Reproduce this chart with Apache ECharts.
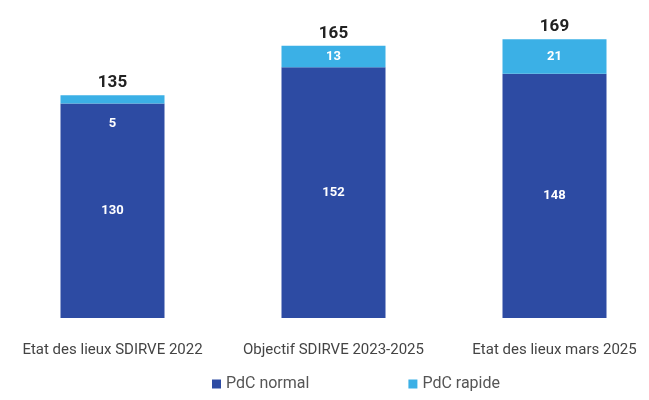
<!DOCTYPE html>
<html><head><meta charset="utf-8">
<script src="https://cdn.jsdelivr.net/npm/echarts@6/dist/echarts.min.js"></script>
<style>html,body{margin:0;padding:0;background:#fff}#c{width:649px;height:400px}</style>
</head><body><div id="c"></div>
<script>
const categories = ['Etat des lieux SDIRVE 2022', 'Objectif SDIRVE 2023-2025', 'Etat des lieux mars 2025'];
const normalValues = [130, 152, 148];
const rapideValues = [5, 13, 21];
const totals = normalValues.map((v, i) => v + rapideValues[i]);

const chart = echarts.init(document.getElementById('c'));
chart.setOption({
  animation: false,
  backgroundColor: '#fff',
  grid: { left: 2, width: 663, top: 21, bottom: 82, outerBoundsMode: 'none', containLabel: false },
  legend: {
    bottom: 3, left: 207, itemWidth: 9, itemHeight: 9, itemGap: 99,
    icon: 'rect',
    textStyle: { color: '#555', fontSize: 16, fontFamily: 'Roboto, sans-serif' },
    data: ['PdC normal', 'PdC rapide']
  },
  xAxis: {
    type: 'category', data: categories,
    axisLine: { show: false }, axisTick: { show: false },
    axisLabel: { interval: 0, hideOverlap: false, color: '#444', fontSize: 15, margin: 25, fontFamily: 'Roboto, sans-serif' }
  },
  yAxis: { type: 'value', min: 0, max: 180, show: false, splitLine: { show: false } },
  series: [
    {
      name: 'PdC normal', type: 'bar', stack: 't', data: normalValues, barWidth: 104,
      itemStyle: { color: '#2d4ba3' },
      label: { show: true, position: 'inside', color: '#fff', fontSize: 13, fontWeight: 'bold', fontFamily: 'Roboto, sans-serif' }
    },
    {
      name: 'PdC rapide', type: 'bar', stack: 't', barWidth: 104,
      data: rapideValues.map((v, i) => i === 0 ? { value: v, label: { offset: [0, 24] } } : v),
      itemStyle: { color: '#3bb0e6' },
      label: { show: true, position: 'inside', color: '#fff', fontSize: 13, fontWeight: 'bold', fontFamily: 'Roboto, sans-serif' }
    },
    {
      name: 'total', type: 'bar', stack: 't', data: totals.map(() => 0), barWidth: 104,
      itemStyle: { color: 'transparent' },
      label: {
        show: true, position: 'top', distance: 4,
        formatter: p => totals[p.dataIndex],
        color: '#222', fontSize: 17, fontWeight: 'bold', fontFamily: 'Roboto, sans-serif'
      },
      tooltip: { show: false }
    }
  ]
});
</script></body></html>
